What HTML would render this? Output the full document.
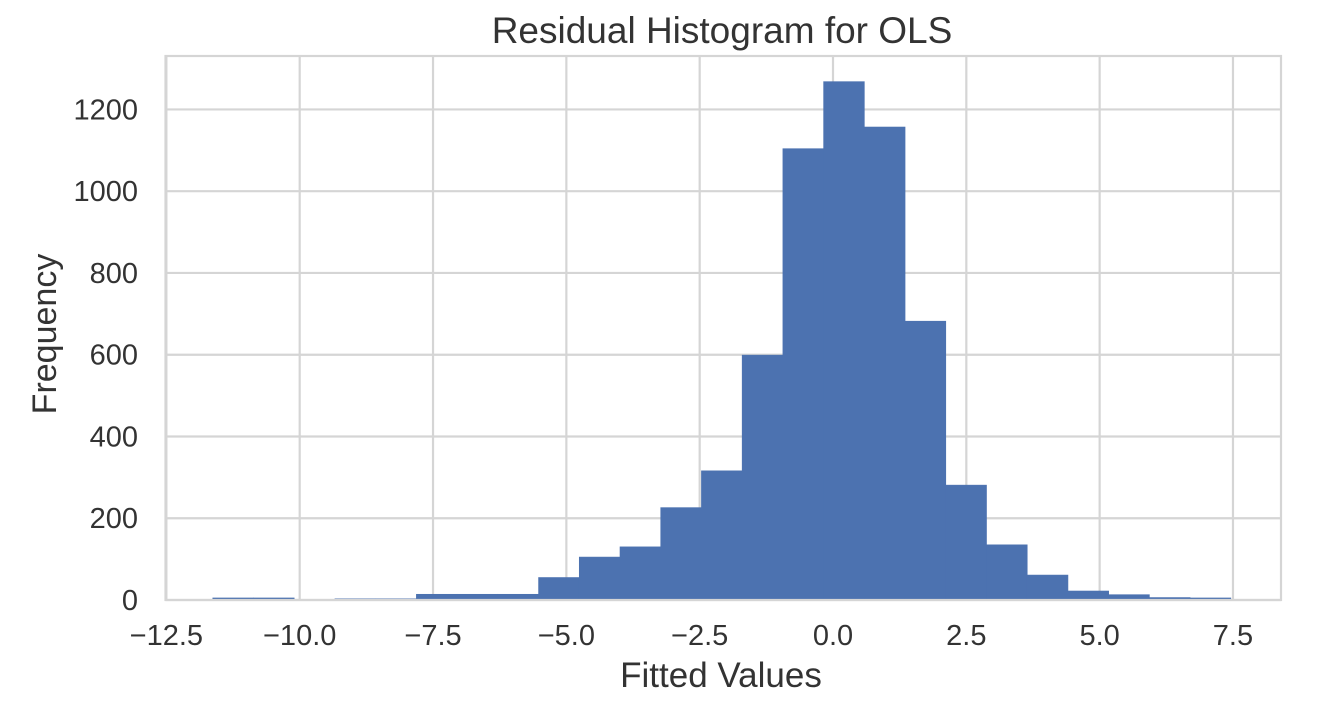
<!DOCTYPE html>
<html><head><meta charset="utf-8"><style>
body{margin:0;background:#fff;width:1326px;height:708px;overflow:hidden;font-family:"Liberation Sans",Arial,sans-serif}
</style></head><body>
<svg id="chart" width="1326" height="708" xmlns="http://www.w3.org/2000/svg" font-family="Liberation Sans, Arial, sans-serif"></svg>
<script>
const binStart = -11.63;
const binWidth = 0.7636;
const counts = [5,5,0,3,3,14,14,14,55,105,130,226,316,599,1104,1268,1157,682,281,135,61,22,13,6,5];
const xTicks = [-12.5,-10.0,-7.5,-5.0,-2.5,0.0,2.5,5.0,7.5];
const yTicks = [0,200,400,600,800,1000,1200];

const L=165.5,R=1281,T=56,B=600;
const X=v=>833+v*53.33;
const Y=v=>600-v*0.4088;
const svg=document.getElementById('chart');
const NS='http://www.w3.org/2000/svg';
function mk(tag,attrs,parent){const e=document.createElementNS(NS,tag);for(const k in attrs)e.setAttribute(k,attrs[k]);(parent||svg).appendChild(e);return e;}

const grid=mk('g',{});


xTicks.forEach(t=>{const l=mk('line',{x1:X(t),x2:X(t),y1:T,y2:B,stroke:'#d5d5d5','stroke-width':2.2},grid);

});
yTicks.forEach(t=>{const l=mk('line',{x1:L,x2:R,y1:Y(t),y2:Y(t),stroke:'#d5d5d5','stroke-width':2.2},grid);

});

const bars=mk('g',{});


counts.forEach((c,i)=>{if(c<=0)return;const x1=X(binStart+i*binWidth),x2=X(binStart+(i+1)*binWidth);
const r=mk('rect',{x:x1,y:Y(c),width:x2-x1,height:B-Y(c),fill:'#4c72b0',stroke:'#4c72b0','stroke-width':0.6},bars);

});

const frame=mk('rect',{x:L,y:T,width:R-L,height:B-T,fill:'none',stroke:'#d5d5d5','stroke-width':2.2});



xTicks.forEach(t=>{const e=mk('text',{x:X(t),y:645,'text-anchor':'middle','font-size':29,fill:'#333'});e.textContent=(t<0?'\u2212':'')+Math.abs(t).toFixed(1);

});
yTicks.forEach(t=>{const e=mk('text',{x:138,y:Y(t)+10,'text-anchor':'end','font-size':29,fill:'#333'});e.textContent=t;

});

const title=mk('text',{x:722,y:43,'text-anchor':'middle','font-size':37,fill:'#333'});title.textContent='Residual Histogram for OLS';


const xl=mk('text',{x:721,y:687,'text-anchor':'middle','font-size':35,fill:'#333'});xl.textContent='Fitted Values';


const yl=mk('text',{x:56,y:334,'text-anchor':'middle','font-size':34,fill:'#333',transform:'rotate(-90 56 334)'});yl.textContent='Frequency';


</script>
</body></html>
